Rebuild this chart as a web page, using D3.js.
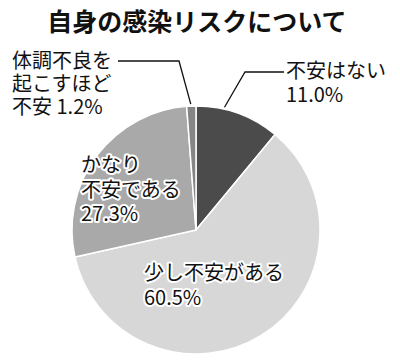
<!DOCTYPE html>
<html>
<head>
<meta charset="utf-8">
<script src="https://cdn.jsdelivr.net/npm/d3@7"></script>
<style>
  body { margin: 0; background: #fff; }
  svg text { font-family: "Noto Sans CJK JP", "Noto Sans", sans-serif; fill: #111; }
  .title { font-size: 25px; font-weight: bold; }
  .label { font-size: 20px; }
  .halo { stroke: #fff; stroke-width: 4px; stroke-linejoin: round; paint-order: stroke; }
</style>
</head>
<body>
<script>
const categories = ["不安はない", "少し不安がある", "かなり不安である", "体調不良を起こすほど不安"]
const values = [11.0, 60.5, 27.3, 1.2]
const valueLabels = ["11.0%", "60.5%", "27.3%", "1.2%"]

const COLORS = ["#4b4b4b", "#d7d7d7", "#a9a9a9", "#858585"]

const WIDTH = 400
const HEIGHT = 364
const CENTER = { x: 196, y: 230 }
const RADIUS = 124

const svg = d3.select("body")
    .append("svg")
    .attr("width", WIDTH)
    .attr("height", HEIGHT)

svg.append("text")
    .attr("class", "title")
    .attr("x", 197)
    .attr("y", 31)
    .attr("text-anchor", "middle")
    .text("自身の感染リスクについて")

const pie = d3.pie().sort(null).value(d => d)
const arcs = pie(values)
const arc = d3.arc().innerRadius(0).outerRadius(RADIUS)

const g = svg.append("g")
    .attr("transform", "translate(" + CENTER.x + "," + CENTER.y + ")")

g.selectAll("path")
    .data(arcs)
    .enter()
    .append("path")
    .attr("d", arc)
    .attr("fill", (d, i) => COLORS[i])
    .attr("stroke", "#fff")
    .attr("stroke-width", 1.5)

// point on the rim at a given fraction through a slice
function rim(i, frac, r) {
    const a = arcs[i].startAngle + (arcs[i].endAngle - arcs[i].startAngle) * frac
    return [CENTER.x + r * Math.sin(a), CENTER.y - r * Math.cos(a)]
}

// leader lines
const leaders = [
    { i: 0, frac: 0.33, elbow: [245, 72], end: [284, 72] },
    { i: 3, frac: 0.45, elbow: [179, 61], end: [118, 61] }
]
leaders.forEach(l => {
    const p = rim(l.i, l.frac, RADIUS + 2)
    svg.append("polyline")
        .attr("points", [p, l.elbow, l.end].map(q => q.join(",")).join(" "))
        .attr("fill", "none")
        .attr("stroke", "#111")
        .attr("stroke-width", 1.3)
})

function addLabel(lines, x, y, lh, halo) {
    const t = svg.append("text")
        .attr("class", "label" + (halo ? " halo" : ""))
        .attr("x", x)
        .attr("y", y)
    lines.forEach((s, k) => {
        t.append("tspan").attr("x", x).attr("y", y + k * lh).text(s)
    })
}

addLabel([categories[0], valueLabels[0]], 286, 78, 24, false)
addLabel(["体調不良を", "起こすほど", "不安 " + valueLabels[3]], 12, 68, 23, false)
addLabel(["かなり", "不安である", valueLabels[2]], 81, 172, 24.5, true)
addLabel([categories[1], valueLabels[1]], 144, 280, 24.5, true)
</script>
</body>
</html>
